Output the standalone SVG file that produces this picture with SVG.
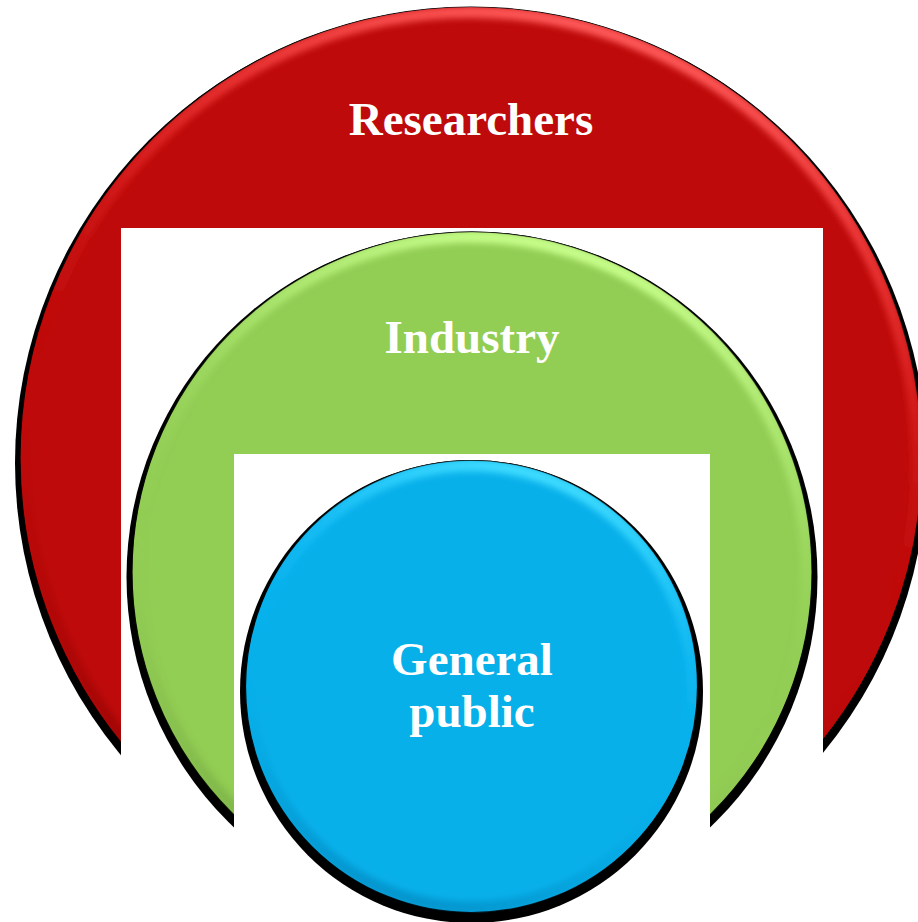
<svg xmlns="http://www.w3.org/2000/svg" width="918" height="922" viewBox="0 0 918 922">
  <style>
    .shadow { fill: #000; }
    .edge { stroke: #000; stroke-width: 1.2; }
    .rim { fill: none; stroke-width: 12; filter: url(#soft); }
    .label { font-family: "Liberation Serif", "Times New Roman", serif; font-weight: bold; font-size: 47px; fill: #fff; text-anchor: middle; }
  </style>
  <defs>
    <filter id="soft" x="-10%" y="-10%" width="120%" height="120%">
      <feGaussianBlur stdDeviation="3"/>
    </filter>

    <!-- bevel rims: light from the top, darker toward the lower left -->
    <linearGradient id="rimRed" x1="0.6" y1="0" x2="0.3" y2="1">
      <stop offset="0" stop-color="#ff5a5a" stop-opacity="1"/>
      <stop offset="0.3" stop-color="#ff3a3a" stop-opacity="0.35"/>
      <stop offset="0.55" stop-color="#be0a0a" stop-opacity="0"/>
      <stop offset="1" stop-color="#6a0000" stop-opacity="0.6"/>
    </linearGradient>
    <linearGradient id="rimGreen" x1="0.6" y1="0" x2="0.3" y2="1">
      <stop offset="0" stop-color="#c8ff8c" stop-opacity="1"/>
      <stop offset="0.3" stop-color="#b4f078" stop-opacity="0.35"/>
      <stop offset="0.55" stop-color="#92cd54" stop-opacity="0"/>
      <stop offset="1" stop-color="#5a8a30" stop-opacity="0.5"/>
    </linearGradient>
    <linearGradient id="rimBlue" x1="0.6" y1="0" x2="0.3" y2="1">
      <stop offset="0" stop-color="#40dcff" stop-opacity="1"/>
      <stop offset="0.3" stop-color="#20c8ff" stop-opacity="0.35"/>
      <stop offset="0.55" stop-color="#08b0ea" stop-opacity="0"/>
      <stop offset="1" stop-color="#0070a8" stop-opacity="0.5"/>
    </linearGradient>

    <clipPath id="clipRed"><circle cx="471" cy="458" r="451"/></clipPath>
    <clipPath id="clipGreen"><circle cx="472" cy="572" r="340"/></clipPath>
    <clipPath id="clipBlue"><circle cx="471.5" cy="686.5" r="226"/></clipPath>

    <!-- open bottom notches cut from the outer rings -->
    <clipPath id="notchOuter">
      <path clip-rule="evenodd" d="M0 0H918V922H0Z M121 228V922H823V228Z"/>
    </clipPath>
    <clipPath id="notchMiddle">
      <path clip-rule="evenodd" d="M0 0H918V922H0Z M234 454V922H710V454Z"/>
    </clipPath>
  </defs>

  <rect width="918" height="922" fill="#fff"/>

  <g id="connectors"/>

  <g id="researchers">
    <g clip-path="url(#notchOuter)">
      <circle class="shadow" cx="471" cy="463" r="456"/>
      <circle class="edge" cx="471" cy="458" r="451" fill="#be0a0a"/>
      <g clip-path="url(#clipRed)">
        <circle class="rim" cx="471" cy="458" r="446" stroke="url(#rimRed)"/>
      </g>
    </g>
    <text class="label" x="471" y="135">Researchers</text>
  </g>

  <g id="industry">
    <g clip-path="url(#notchMiddle)">
      <circle class="shadow" cx="472" cy="577" r="345.5"/>
      <circle class="edge" cx="472" cy="572" r="340" fill="#92cd54"/>
      <g clip-path="url(#clipGreen)">
        <circle class="rim" cx="472" cy="572" r="335" stroke="url(#rimGreen)"/>
      </g>
    </g>
    <text class="label" x="472" y="353">Industry</text>
  </g>

  <g id="general-public">
    <circle class="shadow" cx="471.5" cy="691.5" r="231.5"/>
    <circle class="edge" cx="471.5" cy="686.5" r="226" fill="#08b0ea"/>
    <g clip-path="url(#clipBlue)">
      <circle class="rim" cx="471.5" cy="686.5" r="221" stroke="url(#rimBlue)"/>
    </g>
    <text class="label" x="472" y="675">General</text>
    <text class="label" x="472" y="727">public</text>
  </g>
</svg>
